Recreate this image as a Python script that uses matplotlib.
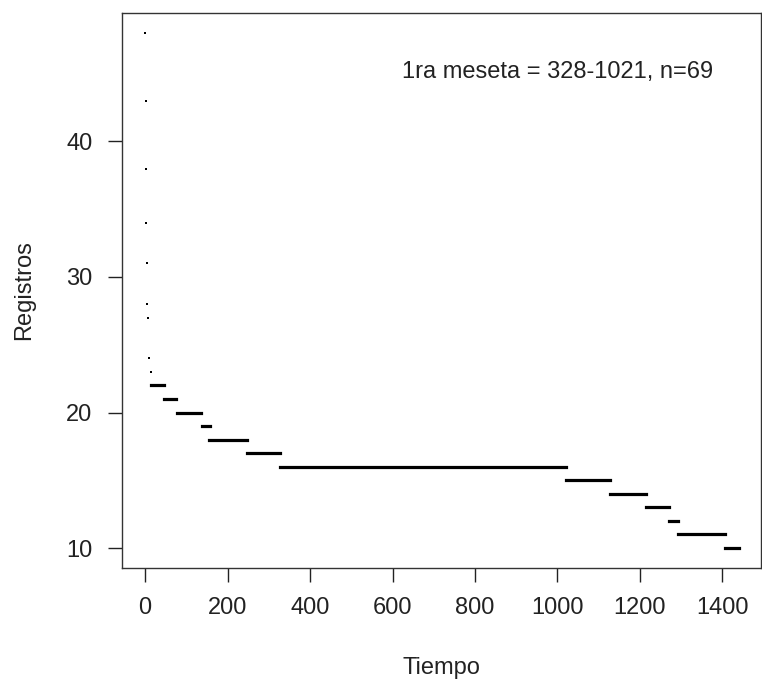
import matplotlib
matplotlib.use("Agg")
import matplotlib.pyplot as plt

plt.rcParams['font.family'] = ['Liberation Sans', 'DejaVu Sans']

# registros por tiempo: cada tramo es una meseta (inicio, fin)
registros = [48, 43, 38, 34, 31, 28, 27, 24, 23, 22, 21, 20, 19, 18, 17, 16, 15, 14, 13, 12, 11, 10]
t_inicio = [0, 1, 2, 3, 4, 5, 6, 9, 13, 15, 45, 76, 137, 156, 246, 328, 1021, 1128, 1215, 1271, 1293, 1407]
t_fin = [0, 1, 2, 3, 4, 5, 6, 9, 13, 46, 74, 135, 157, 246, 327, 1021, 1128, 1215, 1271, 1293, 1407, 1441]

x_ticks = [0, 200, 400, 600, 800, 1000, 1200, 1400]
y_ticks = [10, 20, 30, 40]

fig = plt.figure(figsize=(7.62, 6.82), dpi=100)
ax = fig.add_axes([0.1597, 0.1676, 0.8390, 0.8138])

# tramos con duracion > 0 como segmentos, instantes aislados como puntos
largos = [(r, a, b) for r, a, b in zip(registros, t_inicio, t_fin) if b > a]
puntos = [(r, a) for r, a, b in zip(registros, t_inicio, t_fin) if b == a]

ax.hlines([r for r, a, b in largos], [a for r, a, b in largos], [b for r, a, b in largos],
          colors='black', linewidth=2.3, capstyle='projecting')
ax.plot([a for r, a in puntos], [r for r, a in puntos], 's', color='black',
        markersize=1.8, markeredgewidth=0)

ax.set_xlim(-57, 1494)
ax.set_ylim(8.55, 49.5)
ax.set_xticks(x_ticks)
ax.set_yticks(y_ticks)
ax.tick_params(length=10, width=1, pad=11, labelsize=17, colors='#222222')

for s in ax.spines.values():
    s.set_linewidth(1.0)
    s.set_color('#333333')

ax.set_xlabel('Tiempo', fontsize=17, color='#222222')
ax.xaxis.set_label_coords(0.5, -0.1807)
ax.xaxis.label.set_va('center')
ax.set_ylabel('Registros', fontsize=17, color='#222222')
ax.yaxis.set_label_coords(-0.1528, 0.5)
ax.yaxis.label.set_va('center')

ax.text(1000, 45.1, '1ra meseta = 328-1021, n=69', ha='center', va='center',
        fontsize=17, color='#222222')

fig.savefig('out.png', dpi=100)
